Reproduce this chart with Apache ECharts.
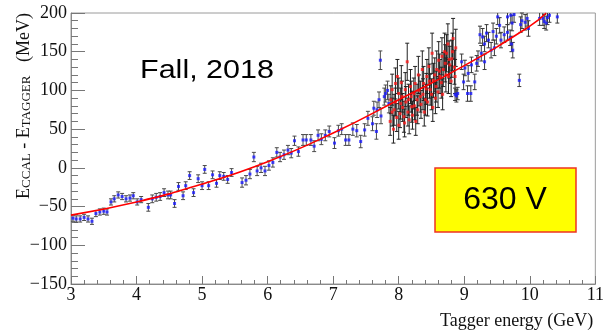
<!DOCTYPE html>
<html>
<head>
<meta charset="utf-8">
<script src="https://cdn.jsdelivr.net/npm/echarts@6/dist/echarts.min.js"></script>
<style>
  html, body { margin: 0; padding: 0; background: #fff; }
  #chart { width: 607px; height: 333px; }
</style>
</head>
<body>
<div id="chart"></div>
<script>
// Each measurement: [tagger energy (GeV), E_CCAL - E_TAGGER (MeV), error (MeV)]
const blueLow = [
  [3.03,-65,4],[3.08,-66,4],[3.14,-66,4],[3.2,-64,4],[3.26,-66,4],[3.32,-69,4],
  [3.38,-59,4],[3.44,-57,4],[3.5,-56,4],[3.55,-57,4],[3.61,-44,4],[3.66,-40,4],
  [3.72,-35,4],[3.78,-37,4],[3.84,-40,4],[3.9,-39,4],[3.95,-36,4],[4.01,-44,4],
  [4.07,-41,4],[4.18,-51,5],[4.24,-40,5],[4.3,-38,5],[4.36,-37,5],[4.42,-32,5],
  [4.48,-35,5],[4.52,-35,5],[4.58,-46,5],[4.64,-24,5],[4.71,-36,5],[4.75,-23,5],
  [4.81,-10,5],[4.87,-32,5],[4.94,-14,5],[5.0,-23,5],[5.04,-2,5],[5.1,-23,5],
  [5.16,-9,5],[5.22,-20,5],[5.27,-10,5],[5.33,-11,5],[5.39,-15,5],[5.45,-6,5],
  [5.61,-19,6],[5.67,-16,6],[5.73,-8,6],[5.79,14,6],[5.84,-4,6],[5.9,0,6],
  [5.96,-4,6],[6.02,3,6],[6.08,7,6],[6.14,20,6],[6.19,14,6],[6.25,17,6],
  [6.31,23,6],[6.36,19,6],[6.41,35,6],[6.47,21,6],[6.54,36,7],[6.59,36,7],
  [6.66,36,7],[6.71,28,7],[6.77,42,7],[6.82,37,7],[6.88,42,7],[6.94,47,7],
  [7.02,32,7],[7.08,48,7],[7.13,50,7],[7.19,36,7],[7.24,36,7],[7.3,50,8],
  [7.36,48,8],[7.42,34,8],[7.48,49,8],[7.53,64,9],[7.6,57,9],[7.62,77,9],
  [7.66,47,10],[7.67,75,10],[7.7,88,10],[7.72,139,12],[7.73,67,10],[7.78,92,11],
  [7.8,96,11],[7.83,100,12],[7.85,83,12]
];

const redMid = [
  [7.87,60,18],[7.88,88,18],[7.9,101,20],[7.9,72,18],[7.92,50,18],[7.93,75,20],
  [7.95,109,20],[7.95,85,18],[7.97,65,18],[7.98,118,22],[8.0,96,20],[8.0,55,18],
  [8.02,70,18],[8.03,83,20],[8.04,110,22],[8.05,92,20],[8.06,78,18],[8.08,66,20],
  [8.09,58,18],[8.1,101,22],[8.11,85,20],[8.13,137,24],[8.14,72,18],[8.15,88,20],
  [8.16,62,18],[8.18,105,22],[8.19,92,20],[8.2,79,20],[8.21,68,18],[8.23,96,20],
  [8.24,80,18],[8.25,109,22],[8.26,60,18],[8.28,88,20],[8.29,75,18],[8.3,120,24],
  [8.31,100,20],[8.33,92,20],[8.34,82,18],[8.36,127,24],[8.37,95,20],[8.38,109,22],
  [8.39,72,18],[8.41,88,20],[8.42,102,20],[8.43,118,22],[8.44,85,18],[8.46,131,24],
  [8.47,112,22],[8.48,101,20],[8.5,95,20],[8.51,148,26],[8.52,78,18],[8.53,113,22],
  [8.55,120,22],[8.56,90,20],[8.57,105,20],[8.58,127,24],[8.6,98,20],[8.61,139,24],
  [8.62,125,22],[8.63,118,22],[8.65,110,20],[8.66,144,24],[8.67,95,20],[8.68,127,22],
  [8.7,150,24],[8.71,135,24],[8.72,120,22],[8.73,148,24],[8.75,160,26],[8.76,118,22],
  [8.77,140,24],[8.78,133,24],[8.8,112,20],[8.81,141,24],[8.82,150,24],[8.83,167,26],
  [8.85,130,22],[8.86,118,22],[8.87,155,24]
];

const blueHigh = [
  [8.86,95,8],[8.88,93,8],[8.9,96,8],[8.96,137,10],[8.99,111,10],[9.01,129,10],
  [9.05,96,10],[9.06,122,10],[9.1,96,10],[9.11,133,10],[9.16,111,10],[9.19,135,10],
  [9.21,141,10],[9.24,172,11],[9.26,148,10],[9.28,169,11],[9.31,137,10],[9.31,160,10],
  [9.34,174,11],[9.37,165,10],[9.41,152,10],[9.44,176,11],[9.46,155,10],[9.49,170,10],
  [9.51,195,10],[9.54,184,10],[9.56,165,10],[9.61,172,10],[9.66,175,10],[9.7,168,10],
  [9.72,160,10],[9.74,152,10],[9.66,195,10],[9.71,197,10],[9.76,198,10],[9.73,187,10],
  [9.84,113,8],[9.86,185,10],[9.88,190,10],[9.93,188,10],[9.96,193,10],[9.98,180,10],
  [10.15,193,9],[10.2,193,9],[10.22,189,9],[10.25,187,9],[10.27,194,9],[10.3,197,9],
  [10.42,195,8]
];

// Fitted calibration curve
const fitX = [3, 4, 5, 6, 7, 8, 9, 10, 10.25];
const fitY = [-61, -44, -21, 8, 45, 88, 132, 183, 200];

const xTicks = { min: 3, max: 11, step: 1 };
const yTicks = { min: -150, max: 200, step: 50 };

const chart = echarts.init(document.getElementById('chart'));

function errorBars(color) {
  return function (params, api) {
    const x = api.value(0), y = api.value(1), e = api.value(2);
    const hiV = Math.min(y + e, yTicks.max), loV = Math.max(y - e, yTicks.min);
    const hi = api.coord([x, hiV]);
    const lo = api.coord([x, loV]);
    const cap = 2;
    const st = { stroke: color, lineWidth: 1 };
    const kids = [{ type: 'line', shape: { x1: hi[0], y1: hi[1], x2: lo[0], y2: lo[1] }, style: st }];
    if (hiV === y + e) kids.push({ type: 'line', shape: { x1: hi[0] - cap, y1: hi[1], x2: hi[0] + cap, y2: hi[1] }, style: st });
    if (loV === y - e) kids.push({ type: 'line', shape: { x1: lo[0] - cap, y1: lo[1], x2: lo[0] + cap, y2: lo[1] }, style: st });
    return { type: 'group', children: kids };
  };
}

const serif = 'Liberation Serif';
const minus = v => String(v).replace('-', '\u2212');

chart.setOption({
  animation: false,
  backgroundColor: '#fff',
  grid: { left: 71, right: 7, top: 13, bottom: 49, show: true, borderColor: '#9a9a9a', borderWidth: 1 },
  xAxis: {
    type: 'value', min: xTicks.min, max: xTicks.max, interval: xTicks.step,
    axisLine: { onZero: false, lineStyle: { color: '#8a8a8a', width: 1 } },
    axisTick: { inside: true, length: 8, lineStyle: { color: '#777' } },
    minorTick: { show: true, splitNumber: 5, length: 4, lineStyle: { color: '#777' } },
    splitLine: { show: false },
    axisLabel: { fontFamily: serif, fontSize: 18, color: '#111', margin: 2 },
    name: 'Tagger energy (GeV)', nameLocation: 'end',
    nameTextStyle: { fontFamily: serif, fontSize: 18, color: '#111', align: 'right', verticalAlign: 'top', padding: [28, 0, 0, 0] },
    nameGap: -2
  },
  yAxis: {
    type: 'value', min: yTicks.min, max: yTicks.max, interval: yTicks.step,
    axisLine: { show: true, onZero: false, lineStyle: { color: '#8a8a8a', width: 1 } },
    axisTick: { show: true, inside: true, length: 14, lineStyle: { color: '#777' } },
    minorTick: { show: true, splitNumber: 5, length: 7, lineStyle: { color: '#777' } },
    splitLine: { show: false },
    axisLabel: { fontFamily: serif, fontSize: 18, color: '#111', margin: 4, formatter: minus }
  },
  series: [
    { type: 'custom', renderItem: errorBars('#4a4a4a'), data: blueLow, encode: { x: 0, y: 1 }, z: 2 },
    { type: 'scatter', data: blueLow, symbol: 'rect', symbolSize: 3, itemStyle: { color: '#1a1aff' }, z: 3 },
    { type: 'custom', renderItem: errorBars('#222'), data: redMid, encode: { x: 0, y: 1 }, z: 2 },
    { type: 'scatter', data: redMid, symbol: 'rect', symbolSize: 3, itemStyle: { color: '#ff1a1a' }, z: 3 },
    { type: 'custom', renderItem: errorBars('#3a3a3a'), data: blueHigh, encode: { x: 0, y: 1 }, z: 2 },
    { type: 'scatter', data: blueHigh, symbol: 'rect', symbolSize: 3, itemStyle: { color: '#1a1aff' }, z: 3 },
    {
      type: 'line', data: fitX.map((x, i) => [x, fitY[i]]), smooth: true, showSymbol: false,
      lineStyle: { color: '#ff0000', width: 1.6 }, z: 4
    }
  ],
  graphic: [
    {
      type: 'text', x: 22, y: 106, rotation: Math.PI / 2,
      style: {
        text: '{e|E}{s|CCAL}{e| - E}{s|TAGGER}{e|   (MeV)}',
        align: 'center', verticalAlign: 'middle', fill: '#111',
        rich: {
          e: { fontFamily: serif, fontSize: 18, fill: '#111', verticalAlign: 'bottom', lineHeight: 22 },
          s: { fontFamily: serif, fontSize: 13, fill: '#111', verticalAlign: 'bottom', lineHeight: 22 }
        }
      }
    },
    {
      type: 'text', x: 207, y: 71, scaleX: 1.22,
      style: { text: 'Fall, 2018', fontFamily: 'Liberation Sans', fontSize: 25, fill: '#000', align: 'center', verticalAlign: 'middle' }
    },
    {
      type: 'rect', shape: { x: 435, y: 168, width: 141, height: 64 },
      style: { fill: '#ffff00', stroke: '#ee3322', lineWidth: 1.5 }, z: 10
    },
    {
      type: 'text', x: 505, y: 200, z: 11,
      style: { text: '630 V', fontFamily: 'Liberation Sans', fontSize: 32, fill: '#000', align: 'center', verticalAlign: 'middle' }
    }
  ]
});
</script>
</body>
</html>
